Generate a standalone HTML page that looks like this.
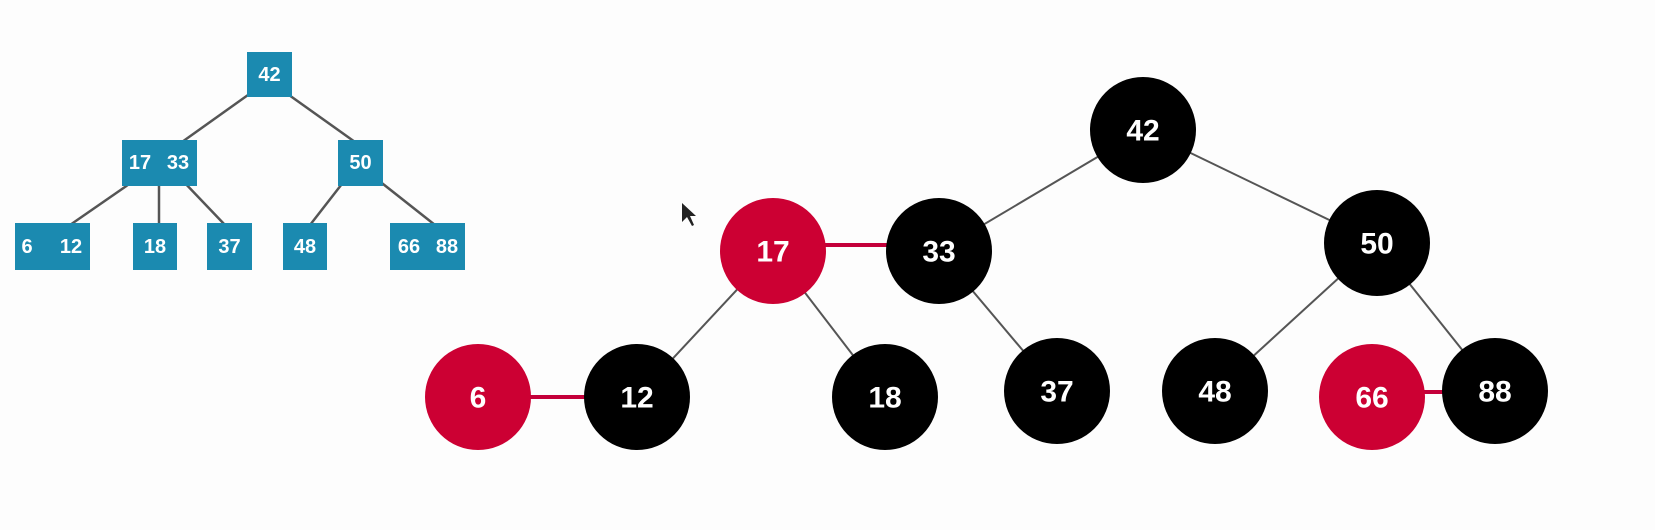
<!DOCTYPE html>
<html><head><meta charset="utf-8"><style>
html,body{margin:0;padding:0;background:#fdfdfd;}
svg{display:block;}
text{font-family:"Liberation Sans",sans-serif;font-weight:bold;fill:#fff;text-anchor:middle;dominant-baseline:central;}
</style></head><body>
<svg width="1655" height="530" viewBox="0 0 1655 530" xmlns="http://www.w3.org/2000/svg">
<rect width="1655" height="530" fill="#fdfdfd"/>
<!-- B-tree -->
<g stroke="#555" stroke-width="2.5">
<line x1="255" y1="90" x2="182" y2="142"/>
<line x1="282" y1="90" x2="355" y2="142"/>
<line x1="135" y1="180" x2="70" y2="225"/>
<line x1="159" y1="180" x2="159" y2="225"/>
<line x1="182" y1="180" x2="225" y2="225"/>
<line x1="345" y1="180" x2="310" y2="225"/>
<line x1="378" y1="180" x2="435" y2="225"/>
</g>
<g fill="#1b8ab0">
<rect x="247" y="52" width="45" height="45"/>
<rect x="122" y="140" width="75" height="46"/>
<rect x="338" y="140" width="45" height="46"/>
<rect x="15" y="223" width="75" height="47"/>
<rect x="133" y="223" width="44" height="47"/>
<rect x="207" y="223" width="45" height="47"/>
<rect x="283" y="223" width="44" height="47"/>
<rect x="390" y="223" width="75" height="47"/>
</g>
<g font-size="20">
<text x="269.5" y="75">42</text>
<text x="140" y="163">17</text>
<text x="178" y="163">33</text>
<text x="360.5" y="163">50</text>
<text x="27" y="247">6</text>
<text x="71" y="247">12</text>
<text x="155" y="247">18</text>
<text x="229.5" y="247">37</text>
<text x="305" y="247">48</text>
<text x="409" y="247">66</text>
<text x="447" y="247">88</text>
</g>
<!-- Red-black tree -->
<g stroke="#555" stroke-width="2">
<line x1="1143" y1="130" x2="939" y2="251"/>
<line x1="1143" y1="130" x2="1377" y2="243"/>
<line x1="773" y1="251" x2="637" y2="397"/>
<line x1="773" y1="251" x2="885" y2="397"/>
<line x1="939" y1="251" x2="1057" y2="391"/>
<line x1="1377" y1="243" x2="1215" y2="391"/>
<line x1="1377" y1="243" x2="1495" y2="391"/>
</g>
<g stroke="#c4003a" stroke-width="4">
<line x1="773" y1="245" x2="939" y2="245"/>
<line x1="478" y1="397" x2="637" y2="397"/>
<line x1="1372" y1="392" x2="1495" y2="392"/>
</g>
<g fill="#000">
<circle cx="1143" cy="130" r="53"/>
<circle cx="939" cy="251" r="53"/>
<circle cx="1377" cy="243" r="53"/>
<circle cx="637" cy="397" r="53"/>
<circle cx="885" cy="397" r="53"/>
<circle cx="1057" cy="391" r="53"/>
<circle cx="1215" cy="391" r="53"/>
<circle cx="1495" cy="391" r="53"/>
</g>
<g fill="#cc0033">
<circle cx="773" cy="251" r="53"/>
<circle cx="478" cy="397" r="53"/>
<circle cx="1372" cy="397" r="53"/>
</g>
<g font-size="30">
<text x="1143" y="131">42</text>
<text x="773" y="252">17</text>
<text x="939" y="252">33</text>
<text x="1377" y="244">50</text>
<text x="478" y="398">6</text>
<text x="637" y="398">12</text>
<text x="885" y="398">18</text>
<text x="1057" y="392">37</text>
<text x="1215" y="392">48</text>
<text x="1372" y="398">66</text>
<text x="1495" y="392">88</text>
</g>
<!-- cursor -->
<path d="M682 203 L682 222 L687 217 L692 226 L694 225 L690 216 L696 216 Z" fill="#222"/>
</svg>
</body></html>
